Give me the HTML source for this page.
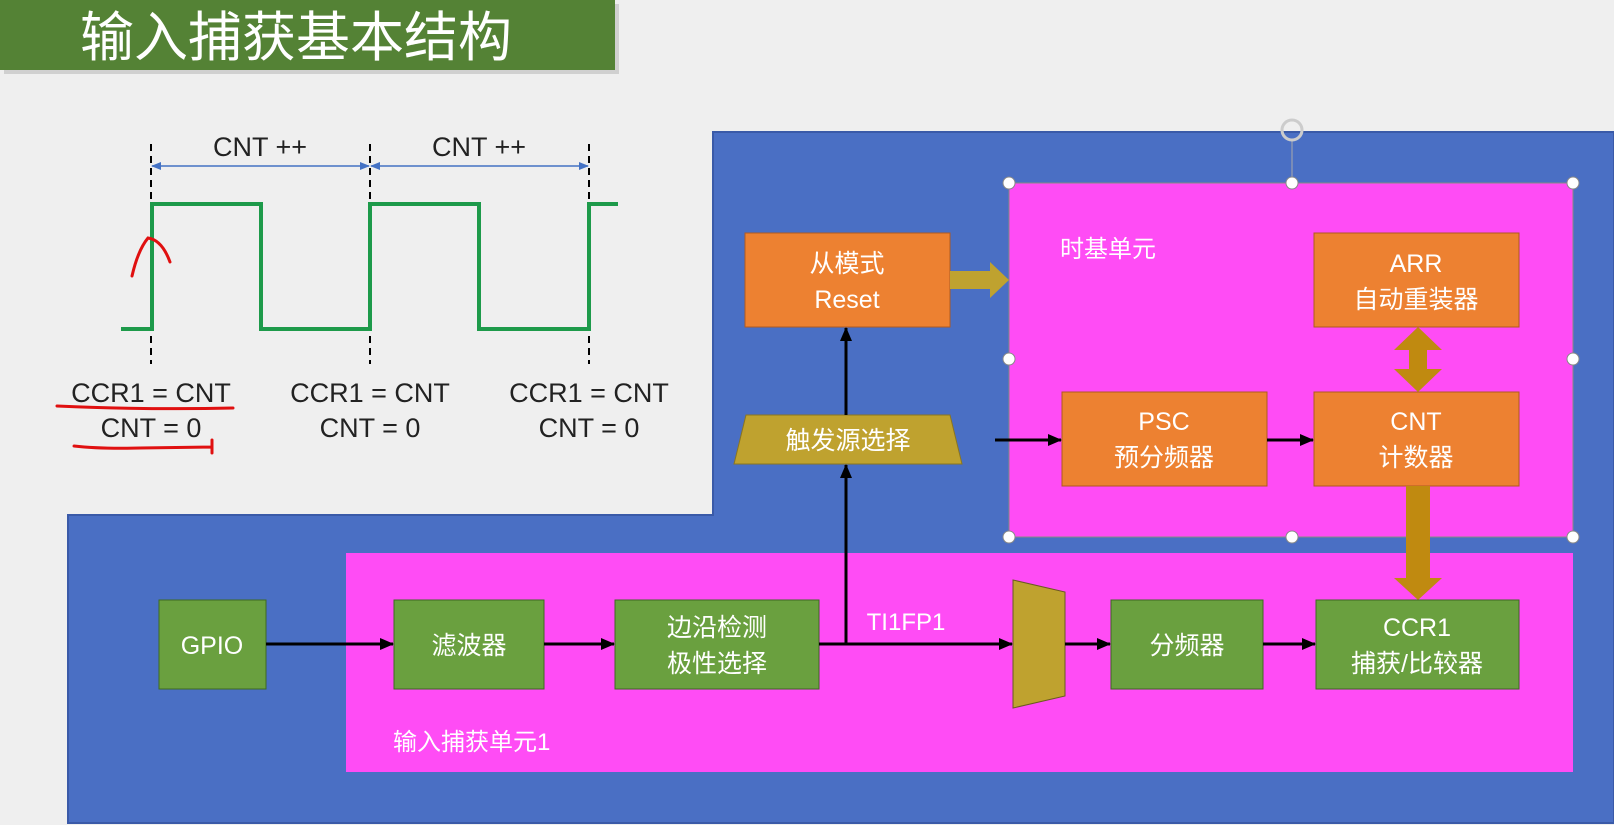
<!DOCTYPE html>
<html><head><meta charset="utf-8"><style>
html,body{margin:0;padding:0;background:#efefef;}
svg{display:block;}
text{font-family:"Liberation Sans","Noto Sans CJK SC",sans-serif;}
</style></head><body>
<svg width="1614" height="825" viewBox="0 0 1614 825" xmlns="http://www.w3.org/2000/svg">
<defs>
<marker id="ah" markerWidth="14" markerHeight="12" refX="13" refY="6" orient="auto" markerUnits="userSpaceOnUse"><path d="M0,0 L14,6 L0,12 z" fill="#000"/></marker>
<marker id="bh" markerWidth="10" markerHeight="10" refX="9" refY="5" orient="auto-start-reverse" markerUnits="userSpaceOnUse"><path d="M0,1 L10,5 L0,9 z" fill="#4472c4"/></marker>
</defs>
<rect width="1614" height="825" fill="#efefef"/>
<!-- title -->
<rect x="0" y="0" width="615" height="70" fill="#548235"/>
<rect x="615" y="4" width="4" height="70" fill="#d0d0d0"/>
<rect x="4" y="70" width="615" height="4" fill="#d0d0d0"/>
<text x="80" y="56" font-size="54" fill="#fff">输入捕获基本结构</text>
<!-- blue background -->
<path d="M713,132 H1614 V823 H68 V515 H713 Z" fill="#4a6fc4" stroke="#3a5aa8" stroke-width="2"/>
<!-- time base unit -->
<rect x="1009" y="183" width="564" height="354" fill="#ff4cf5" stroke="#888" stroke-width="1"/>
<text x="1060" y="257" font-size="24" fill="#fff">时基单元</text>
<line x1="1292" y1="140" x2="1292" y2="183" stroke="#aaa" stroke-width="1"/>
<circle cx="1292" cy="130" r="10" fill="none" stroke="#ccc" stroke-width="3"/>
<g fill="#fff" stroke="#888" stroke-width="1">
<circle cx="1009" cy="183" r="6"/><circle cx="1292" cy="183" r="6"/><circle cx="1573" cy="183" r="6"/>
<circle cx="1009" cy="359" r="6"/><circle cx="1573" cy="359" r="6"/>
<circle cx="1009" cy="537" r="6"/><circle cx="1292" cy="537" r="6"/><circle cx="1573" cy="537" r="6"/>
</g>
<!-- input capture unit -->
<rect x="346" y="553" width="1227" height="219" fill="#ff4cf5"/>
<text x="393" y="750" font-size="24" fill="#fff">输入捕获单元1</text>
<!-- orange blocks -->
<g fill="#ed8131" stroke="#b05a20" stroke-width="1">
<rect x="745" y="233" width="205" height="94"/>
<rect x="1314" y="233" width="205" height="94"/>
<rect x="1062" y="392" width="205" height="94"/>
<rect x="1314" y="392" width="205" height="94"/>
</g>
<g font-size="25" fill="#fff" text-anchor="middle">
<text x="847" y="272">从模式</text><text x="847" y="308">Reset</text>
<text x="1416" y="272">ARR</text><text x="1416" y="308">自动重装器</text>
<text x="1164" y="430">PSC</text><text x="1164" y="466">预分频器</text>
<text x="1416" y="430">CNT</text><text x="1416" y="466">计数器</text>
</g>
<!-- trigger select -->
<path d="M746,415 H950 L962,464 H734 Z" fill="#bfa22f" stroke="#8a7520" stroke-width="1"/>
<text x="848" y="449" font-size="25" fill="#fff" text-anchor="middle">触发源选择</text>
<!-- big arrow reset->timebase -->
<path d="M950,271 H990 V262 L1009,280 L990,298 V289 H950 Z" fill="#bfa22f"/>
<!-- ARR<->CNT -->
<path d="M1418,327 L1442,350 H1427 V369 H1442 L1418,392 L1394,369 H1409 V350 H1394 Z" fill="#c08a10"/>
<!-- CNT->CCR1 -->
<path d="M1406,486 H1430 V578 H1442 L1418,600 L1394,578 H1406 Z" fill="#c08a10"/>
<!-- green blocks -->
<g fill="#6aa03f" stroke="#3e6a22" stroke-width="1">
<rect x="159" y="600" width="107" height="89"/>
<rect x="394" y="600" width="150" height="89"/>
<rect x="615" y="600" width="204" height="89"/>
<rect x="1111" y="600" width="152" height="89"/>
<rect x="1316" y="600" width="203" height="89"/>
</g>
<g font-size="25" fill="#fff" text-anchor="middle">
<text x="212" y="654">GPIO</text>
<text x="469" y="654">滤波器</text>
<text x="717" y="636">边沿检测</text><text x="717" y="672">极性选择</text>
<text x="1187" y="654">分频器</text>
<text x="1417" y="636">CCR1</text><text x="1417" y="672">捕获/比较器</text>
</g>
<!-- mux -->
<path d="M1013,580 L1065,592 V696 L1013,708 Z" fill="#bfa22f" stroke="#6a5a20" stroke-width="1"/>
<text x="906" y="630" font-size="24" fill="#fff" text-anchor="middle">TI1FP1</text>
<!-- arrows -->
<g stroke="#000" stroke-width="3" fill="none" marker-end="url(#ah)">
<line x1="266" y1="644" x2="393" y2="644"/>
<line x1="544" y1="644" x2="614" y2="644"/>
<line x1="819" y1="644" x2="1012" y2="644"/>
<line x1="1065" y1="644" x2="1110" y2="644"/>
<line x1="1263" y1="644" x2="1315" y2="644"/>
<line x1="846" y1="644" x2="846" y2="465"/>
<line x1="846" y1="415" x2="846" y2="328"/>
<line x1="995" y1="440" x2="1061" y2="440"/>
<line x1="1267" y1="440" x2="1313" y2="440"/>
</g>
<!-- waveform -->
<g stroke="#000" stroke-width="2" stroke-dasharray="7,5">
<line x1="151" y1="144" x2="151" y2="364"/>
<line x1="370" y1="144" x2="370" y2="364"/>
<line x1="589" y1="144" x2="589" y2="364"/>
</g>
<g stroke="#4472c4" stroke-width="1.5" marker-start="url(#bh)" marker-end="url(#bh)">
<line x1="152" y1="166" x2="369" y2="166"/>
<line x1="371" y1="166" x2="588" y2="166"/>
</g>
<polyline points="121,329 152,329 152,204 261,204 261,329 370,329 370,204 479,204 479,329 589,329 589,204 618,204" fill="none" stroke="#1d9a4a" stroke-width="4"/>
<g font-size="27" fill="#222" text-anchor="middle">
<text x="260" y="156">CNT ++</text><text x="479" y="156">CNT ++</text>
<text x="151" y="402">CCR1 = CNT</text><text x="151" y="437">CNT = 0</text>
<text x="370" y="402">CCR1 = CNT</text><text x="370" y="437">CNT = 0</text>
<text x="589" y="402">CCR1 = CNT</text><text x="589" y="437">CNT = 0</text>
</g>
<!-- red marks -->
<g stroke="#e01010" stroke-width="3" fill="none" stroke-linecap="round">
<path d="M57,406 Q150,410 233,408"/>
<path d="M74,446 Q100,449 140,448 L212,447 M212,440 V453"/>
<path d="M132,276 Q138,250 148,238 Q162,240 170,262"/>
</g>
</svg>
</body></html>
